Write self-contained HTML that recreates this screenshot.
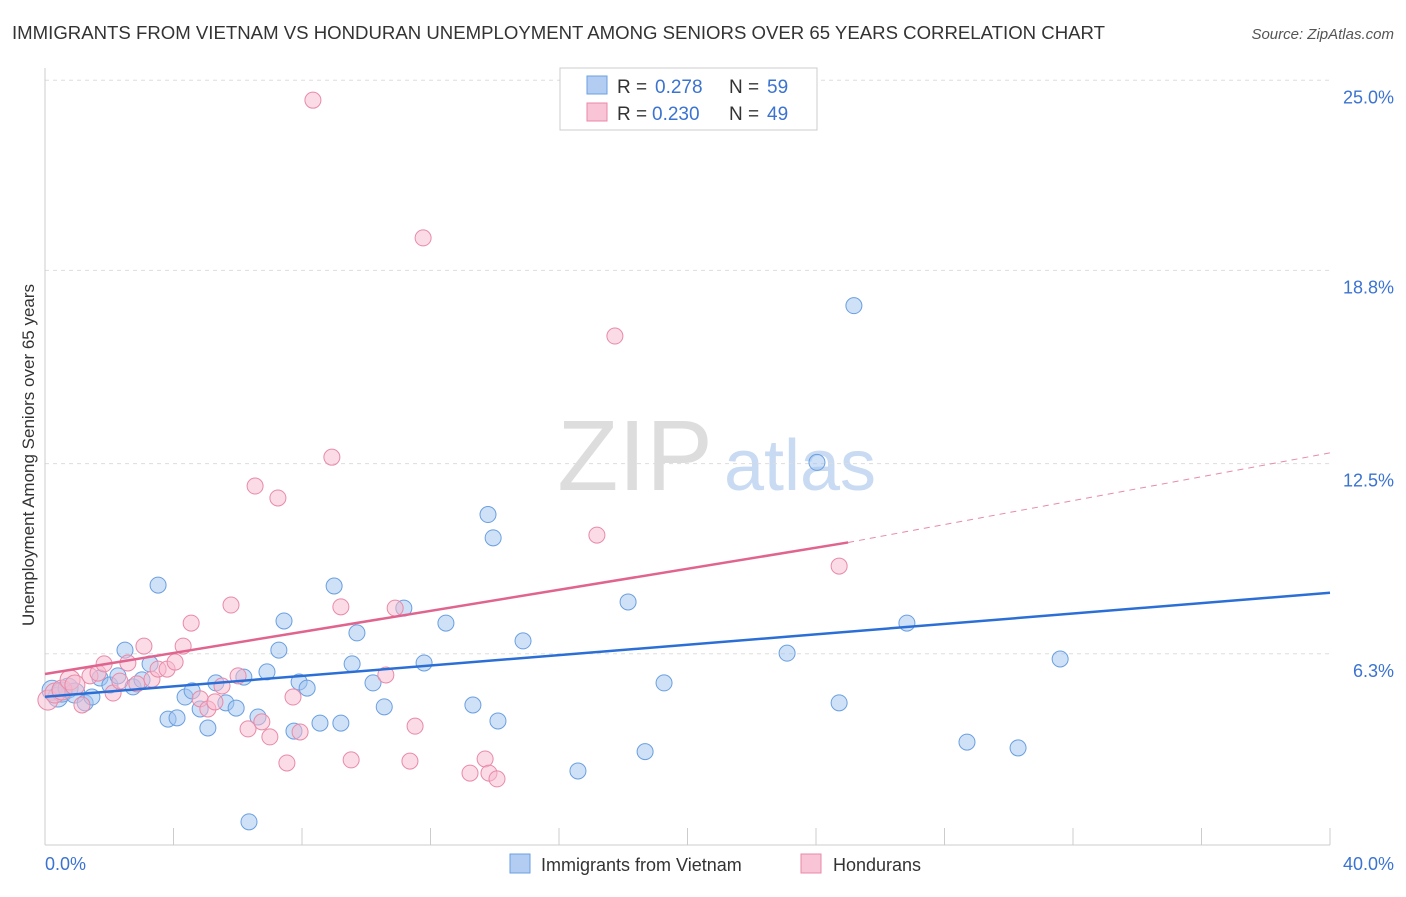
<!DOCTYPE html>
<html><head><meta charset="utf-8"><style>
body{margin:0;background:#fff;font-family:"Liberation Sans",sans-serif}
svg text{font-family:"Liberation Sans",sans-serif}
</style></head><body>
<svg width="1406" height="892">
<text x="12" y="39" font-size="18" fill="#333" textLength="1093" lengthAdjust="spacingAndGlyphs">IMMIGRANTS FROM VIETNAM VS HONDURAN UNEMPLOYMENT AMONG SENIORS OVER 65 YEARS CORRELATION CHART</text>
<text x="1394" y="39" font-size="15" fill="#555" text-anchor="end" font-style="italic">Source: ZipAtlas.com</text>
<text x="635" y="490" font-size="100" fill="#ddd" text-anchor="middle" font-family="Liberation Serif">ZIP</text>
<text x="800" y="490" font-size="72" fill="#c9daf3" text-anchor="middle">atlas</text>
<g id="grid"></g>
<line x1="45" y1="68" x2="45" y2="845" stroke="#ccc"/>
<line x1="45" y1="845" x2="1330" y2="845" stroke="#ccc"/>
<text x="34" y="455" font-size="17" fill="#333" text-anchor="middle" transform="rotate(-90 34 455)">Unemployment Among Seniors over 65 years</text>
<text x="45" y="870" font-size="18" fill="#3b73d1">0.0%</text>
<text x="1394" y="870" font-size="18" fill="#3b73d1" text-anchor="end">40.0%</text>
<g id="pts"></g>
<g id="lines"></g>
<g>
<rect x="560" y="68" width="257" height="62" fill="#fff" stroke="#ccc"/>
<rect x="587" y="76" width="20" height="18" fill="#b3cdf2" stroke="#6a9fe0"/>
<rect x="587" y="103" width="20" height="18" fill="#f9c4d5" stroke="#e88aa8"/>
<text x="617" y="93" font-size="19" fill="#333">R =</text>
<text x="655" y="93" font-size="19" fill="#3b73d1">0.278</text>
<text x="729" y="93" font-size="19" fill="#333">N =</text>
<text x="767" y="93" font-size="19" fill="#3b73d1">59</text>
<text x="617" y="120" font-size="19" fill="#333">R =</text>
<text x="652" y="120" font-size="19" fill="#3b73d1">0.230</text>
<text x="729" y="120" font-size="19" fill="#333">N =</text>
<text x="767" y="120" font-size="19" fill="#3b73d1">49</text>
</g>
<rect x="510" y="854" width="20" height="19" fill="#b3cdf2" stroke="#6a9fe0"/>
<text x="541" y="871" font-size="18" fill="#333">Immigrants from Vietnam</text>
<rect x="801" y="854" width="20" height="19" fill="#f9c4d5" stroke="#e88aa8"/>
<text x="833" y="871" font-size="18" fill="#333">Hondurans</text>
</svg>
<script>
const yTicks=[6.3,12.5,18.8,25.0];
const yTickLabels=["6.3%","12.5%","18.8%","25.0%"];
const xTicks=[4,8,12,16,20,24,28,32,36,40];
const vietX=[0.22,0.40,0.53,0.72,0.93,1.25,1.46,1.71,2.02,2.27,2.49,2.74,3.02,3.27,3.52,3.83,4.11,4.36,4.58,4.83,5.07,5.32,5.63,5.95,6.19,6.35,6.63,6.91,7.28,7.44,7.75,7.91,8.16,8.56,9.00,9.21,9.56,9.71,10.21,10.56,11.17,11.80,12.48,13.32,13.79,13.95,14.10,14.88,16.59,18.15,18.68,19.27,23.10,24.03,24.72,25.18,26.83,28.70,30.29,31.60];
const vietY=[5.11,4.89,5.05,5.18,5.02,4.70,4.89,5.51,5.28,5.58,6.42,5.22,5.45,5.97,8.54,4.17,4.21,4.89,5.09,4.50,3.88,5.35,4.70,4.53,5.54,0.82,4.24,5.71,6.42,7.37,3.78,5.38,5.18,4.04,8.51,4.04,5.97,6.98,5.35,4.57,7.79,6.00,7.30,4.63,10.84,10.08,4.11,6.72,2.48,7.99,3.11,5.35,6.32,12.54,4.70,17.65,7.30,3.42,3.23,6.13];
const honX=[0.09,0.31,0.53,0.78,0.93,1.15,1.40,1.65,1.84,2.12,2.33,2.58,2.86,3.08,3.33,3.52,3.80,4.05,4.30,4.55,4.83,5.07,5.29,5.51,5.79,6.01,6.32,6.54,6.75,7.00,7.25,7.53,7.72,7.94,8.34,8.93,9.21,9.53,10.61,10.90,11.36,11.52,11.77,13.23,13.70,13.82,14.07,17.18,17.74,24.72];
const honY=[4.79,5.02,5.12,5.45,5.28,4.63,5.58,5.67,5.97,5.02,5.41,6.00,5.32,6.55,5.47,5.80,5.80,6.03,6.55,7.30,4.83,4.50,4.73,5.25,7.89,5.58,3.85,11.77,4.08,3.59,11.38,2.74,4.89,3.75,24.35,12.71,7.83,2.84,5.61,7.79,2.80,3.94,19.86,2.41,2.87,2.41,2.22,10.17,16.66,9.16];
const vietLine=[0,4.9,40,8.29];
const honSolid=[0,5.64,25,9.93];
const honDash=[25,9.93,40,12.85];
const X=v=>45+v*32.125, Y=v=>847-v*30.67;
const NS='http://www.w3.org/2000/svg';
function mk(tag,attrs,parent){const e=document.createElementNS(NS,tag);for(const k in attrs)e.setAttribute(k,attrs[k]);parent.appendChild(e);return e;}
const grid=document.getElementById('grid');
yTicks.forEach((t,i)=>{
 const l=mk('line',{x1:45,x2:1330,y1:Y(t),y2:Y(t),stroke:'#ddd','stroke-dasharray':'4,4'},grid);
 
 
 const tx=mk('text',{x:1394,y:Y(t)+23,'font-size':18,fill:'#3b73d1','text-anchor':'end'},grid);
 tx.textContent=yTickLabels[i];
 
 
});
xTicks.forEach(t=>{
 const l=mk('line',{x1:X(t),x2:X(t),y1:828,y2:845,stroke:'#ccc'},grid);
 
 
});
const pts=document.getElementById('pts');
vietX.forEach((x,i)=>{
 const c=mk('circle',{cx:X(x),cy:Y(vietY[i]),r:x<1?10:8,fill:'rgba(160,195,240,0.5)',stroke:'#6a9fe0','stroke-width':1},pts);
 
 
});
honX.forEach((x,i)=>{
 const c=mk('circle',{cx:X(x),cy:Y(honY[i]),r:x<1?10:8,fill:'rgba(248,185,205,0.5)',stroke:'#e88aa8','stroke-width':1},pts);
 
 
});
const lines=document.getElementById('lines');
const b=mk('line',{x1:X(vietLine[0]),y1:Y(vietLine[1]),x2:X(vietLine[2]),y2:Y(vietLine[3]),stroke:'#2b6fd6','stroke-width':2.5},lines);


const p=mk('line',{x1:X(honSolid[0]),y1:Y(honSolid[1]),x2:X(honSolid[2]),y2:Y(honSolid[3]),stroke:'#e0648e','stroke-width':2.5},lines);


const d=mk('line',{x1:X(honDash[0]),y1:Y(honDash[1]),x2:X(honDash[2]),y2:Y(honDash[3]),stroke:'#e88aa8','stroke-width':1,'stroke-dasharray':'6,5'},lines);


</script>
</body></html>
